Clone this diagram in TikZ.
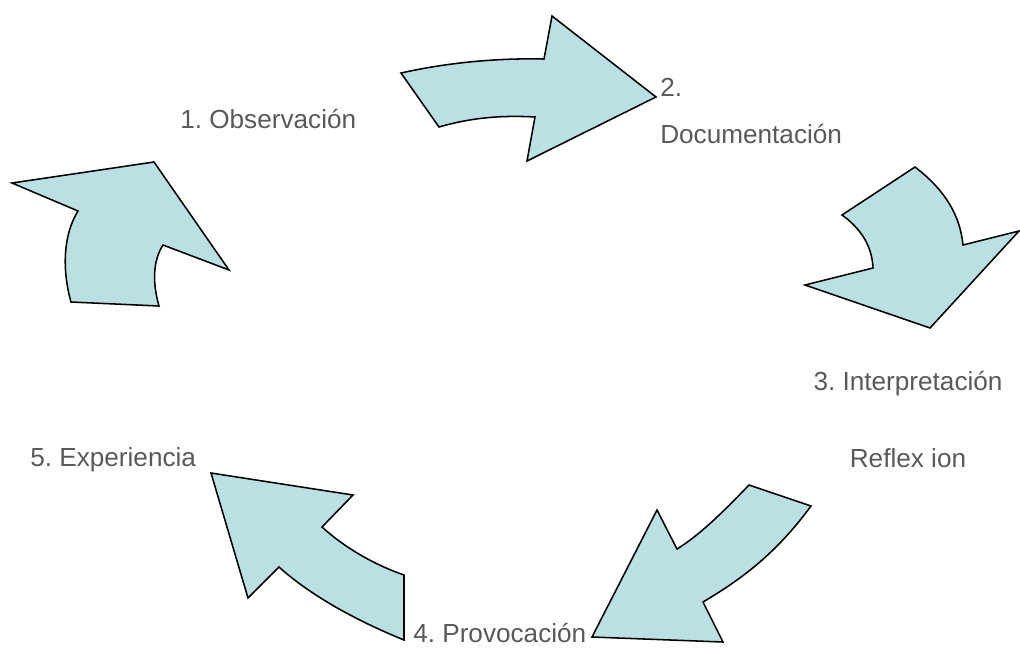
\documentclass[tikz,border=0pt]{standalone}
\usepackage{fontspec}
\setmainfont{Liberation Sans}
\usepackage{xcolor}
\definecolor{arrowfill}{HTML}{BBE0E3}
\definecolor{labelgray}{HTML}{595959}
\tikzset{
  cyclearrow/.style={draw=black, line width=1.1pt, fill=arrowfill, line join=miter},
  steplabel/.style={text=labelgray, inner sep=0pt, anchor=west, font=\fontsize{18.6}{33.4}\selectfont\frenchspacing}
}

\begin{document}
\begin{tikzpicture}[x=0.025cm, y=-0.025cm]
                % Keep the page size of the reference
                \useasboundingbox (0,0) rectangle (1020,647);

                % Arrow from Observacion to Documentacion
                \draw[cyclearrow] (401,73) .. controls (450,62) and (500,58) .. (544,59)
                  -- (552,16) -- (656,97) -- (527,161) -- (535,117)
                  .. controls (500,115) and (470,118) .. (439,127) -- cycle;

                % Arrow from Documentacion to Interpretacion
                \draw[cyclearrow] (915,167) .. controls (945,190) and (960,215) .. (963,245)
                  -- (1019,231) -- (930,328) -- (805,285) -- (873,268)
                  .. controls (872,245) and (860,228) .. (842,215) -- cycle;

                % Arrow from Interpretacion to Provocacion
                \draw[cyclearrow] (749,485) -- (811,506)
                  .. controls (775,555) and (740,580) .. (703,602)
                  -- (723,642) -- (592,637) -- (657,510) -- (677,549)
                  .. controls (700,535) and (725,510) .. (749,485) -- cycle;

                % Arrow from Provocacion to Experiencia
                \draw[cyclearrow] (211,473) -- (353,495) -- (322,527)
                  .. controls (345,548) and (375,565) .. (404,575)
                  -- (404,640) .. controls (355,620) and (310,595) .. (279,567)
                  -- (248,598) -- cycle;

                % Arrow from Experiencia to Observacion
                \draw[cyclearrow] (12,183) -- (154,162) -- (229,270) -- (163,245)
                  .. controls (152,262) and (153,285) .. (159,306)
                  -- (71,302) .. controls (62,270) and (63,235) .. (78,211) -- cycle;

                % Step labels
                \node[steplabel] (obs) at (180,119) {1. Observación};
                \node[steplabel, align=left, anchor=north west] (doc) at (660,78) {2.\\Documentación};
                \node[steplabel, align=center, anchor=north] (int) at (908,371) {3. Interpretación\\[21pt]Reflex ion};
                \node[steplabel] (exp) at (30,460) {5. Experiencia};
                \node[steplabel] (pro) at (413,633) {4. Provocación};

            \end{tikzpicture}
\end{document}
